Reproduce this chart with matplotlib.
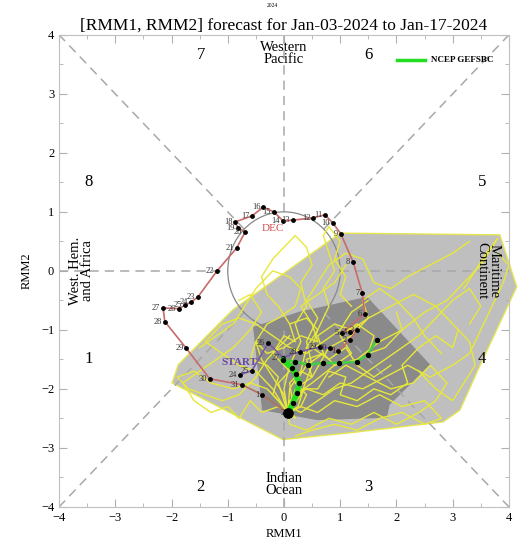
import numpy as np
import matplotlib
matplotlib.use("Agg")
import matplotlib.pyplot as plt
from matplotlib.patches import Polygon, Ellipse

plt.rcParams['font.family'] = ['Liberation Serif', 'DejaVu Serif']

# observed RMM path (Nov 24 -> Jan 2)
obs_days = [24, 25, 26, 27, 28, 29, 30,
            1, 2, 3, 4, 5, 6, 7, 8, 9, 10, 11, 12, 13, 14, 15, 16, 17, 18, 19, 20,
            21, 22, 23, 24, 25, 26, 27, 28, 29, 30, 31,
            1, 2]
obs_month = ['Nov'] * 7 + ['Dec'] * 31 + ['Jan'] * 2
obs_rmm1 = [-0.78, -0.57, -0.28, -0.02, 0.28, 0.64, 0.82,
            0.96, 1.17, 1.30, 1.17, 1.03, 1.44, 1.39, 1.23, 1.01, 0.87, 0.73, 0.52, 0.16, -0.02,
            -0.18, -0.37, -0.57, -0.87, -0.82, -0.69, -0.84, -1.19, -1.53, -1.65, -1.76, -1.87,
            -2.15, -2.12, -1.74, -1.32, -0.75,
            -0.39, 0.07]
obs_rmm2 = [-1.76, -1.69, -1.22, -1.47, -1.37, -1.29, -1.31,
            -1.36, -1.17, -1.00, -1.03, -1.05, -0.73, -0.37, 0.15, 0.63, 0.81, 0.95, 0.90, 0.86, 0.85,
            1.00, 1.08, 0.93, 0.83, 0.73, 0.66, 0.39, 0.00, -0.44, -0.53, -0.58, -0.64,
            -0.63, -0.86, -1.31, -1.83, -1.93,
            -2.10, -2.41]

# ensemble mean forecast (starts from last observed day)
fc_rmm1 = [0.07, 0.16, 0.23, 0.27, 0.21, 0.14, -0.02, 0.20, 0.43, 0.69, 0.98, 1.30, 1.49, 1.65]
fc_rmm2 = [-2.41, -2.24, -2.07, -1.90, -1.75, -1.64, -1.51, -1.54, -1.59, -1.56, -1.56, -1.54, -1.42, -1.17]

# ensemble spread polygons (90% and 50%)
spread90_x = [-1.99, -1.88, -0.91, 1.00, 3.84, 4.14, 3.45, 3.13, 2.83, 1.12, -0.02]
spread90_y = [-1.90, -1.59, -0.66, 0.64, 0.61, -0.27, -1.68, -2.36, -2.56, -2.75, -2.86]
spread50_x = [-0.55, 0.28, 1.48, 2.60, 1.88, 1.83, 0.59, -0.39]
spread50_y = [-0.95, -0.69, -0.44, -1.59, -2.27, -2.49, -2.53, -2.36]

# ensemble members (rmm1, rmm2)
members = [
    ([0.07, 0.2, 0.5, 0.9, 1.3, 1.7, 2.1, 2.5, 2.9, 3.2, 3.5, 3.7, 3.8, 3.6, 3.4, 3.2],
     [-2.41, -2.1, -1.9, -1.6, -1.5, -1.2, -1.0, -0.7, -0.5, -0.2, 0.1, 0.4, 0.55, 0.3, 0.0, -0.3]),
    ([0.07, 0.1, 0.3, 0.4, 0.6, 0.8, 0.7, 0.9, 0.8, 0.7, 0.8, 1.0, 0.9, 1.1, 1.0, 1.2],
     [-2.41, -2.0, -1.7, -1.3, -1.0, -0.6, -0.3, 0.0, 0.3, 0.6, 0.75, 0.5, 0.2, -0.1, -0.4, -0.6]),
    ([0.07, -0.1, -0.3, -0.6, -0.9, -1.3, -1.6, -1.9, -1.7, -1.4, -1.1, -0.8, -0.5, -0.3, -0.1, 0.1],
     [-2.41, -2.2, -2.0, -1.9, -2.0, -1.9, -1.7, -1.8, -2.0, -2.1, -2.2, -2.1, -1.8, -1.5, -1.3, -1.1]),
    ([0.07, 0.3, 0.6, 0.9, 1.3, 1.7, 2.1, 2.5, 2.8, 2.5, 2.1, 1.7, 1.3, 0.9, 0.5, 0.2],
     [-2.41, -2.3, -2.4, -2.2, -2.3, -2.1, -2.3, -2.2, -2.5, -2.6, -2.4, -2.5, -2.7, -2.6, -2.7, -2.8]),
    ([0.07, 0.0, -0.2, -0.4, -0.5, -0.3, -0.1, 0.2, 0.3, 0.1, -0.2, -0.5, -0.7, -0.9, -1.2, -1.5],
     [-2.41, -2.1, -1.8, -1.5, -1.2, -0.9, -0.8, -0.6, -0.3, -0.1, 0.0, -0.3, -0.6, -0.9, -1.1, -1.3]),
    ([0.07, 0.2, 0.5, 0.8, 1.2, 1.5, 1.9, 2.3, 2.7, 3.0, 3.3, 3.4, 3.2, 3.0, 2.7, 2.4],
     [-2.41, -2.0, -1.8, -1.3, -1.1, -0.8, -0.6, -0.4, -0.6, -0.9, -1.2, -1.6, -1.9, -2.2, -2.0, -1.7]),
    ([0.07, 0.1, 0.4, 0.7, 1.0, 1.4, 1.8, 2.2, 2.6, 3.0, 3.3, 3.5, 3.7, 3.9, 4.0, 3.8],
     [-2.41, -2.2, -2.0, -2.1, -1.9, -2.0, -1.8, -1.6, -1.8, -1.6, -1.4, -1.0, -0.6, -0.2, 0.1, 0.3]),
    ([0.07, -0.1, -0.4, -0.6, -0.8, -1.0, -1.3, -1.6, -1.8, -1.5, -1.2, -0.9, -0.6, -0.4, -0.6, -0.8],
     [-2.41, -2.3, -2.4, -2.2, -2.5, -2.3, -2.4, -2.2, -1.9, -1.7, -1.5, -1.3, -1.0, -0.7, -0.4, -0.5]),
    ([0.07, 0.3, 0.5, 0.4, 0.6, 0.4, 0.6, 0.8, 1.1, 1.4, 1.6, 1.9, 2.2, 2.6, 3.0, 3.3],
     [-2.41, -2.1, -1.6, -1.2, -0.8, -0.5, -0.2, 0.1, 0.3, 0.2, -0.2, -0.3, -0.1, 0.1, 0.3, 0.5]),
    ([0.07, 0.1, 0.4, 0.8, 1.2, 1.6, 2.0, 2.4, 2.7, 2.9, 2.6, 2.3, 1.9, 1.5, 1.1, 0.8],
     [-2.41, -2.6, -2.7, -2.5, -2.6, -2.4, -2.6, -2.4, -2.2, -1.9, -1.6, -1.9, -2.0, -1.8, -1.6, -1.8]),
    ([0.07, 0.0, 0.1, 0.3, 0.2, 0.4, 0.3, 0.5, 0.4, 0.2, 0.0, -0.2, -0.4, -0.3, -0.1, 0.1],
     [-2.41, -2.0, -1.6, -1.2, -0.9, -0.6, -0.2, 0.1, 0.4, 0.6, 0.4, 0.2, -0.1, -0.4, -0.6, -0.9]),
    ([0.07, -0.2, -0.5, -0.8, -1.1, -1.4, -1.1, -0.8, -0.5, -0.2, 0.1, 0.4, 0.7, 1.0, 1.2, 1.5],
     [-2.41, -2.0, -1.7, -1.6, -1.4, -1.2, -0.9, -0.8, -0.9, -1.1, -1.3, -1.4, -1.2, -1.0, -0.7, -0.5]),
    ([0.07, 0.15, 0.1, 0.3, 0.5, 0.4, 0.7, 0.9, 1.2, 1.0, 1.3, 1.6, 1.5, 1.8, 2.1, 2.0],
     [-2.41, -2.2, -1.9, -1.7, -1.8, -1.5, -1.4, -1.6, -1.4, -1.1, -0.9, -1.1, -1.4, -1.3, -1.0, -0.7]),
    ([0.07, 0.0, -0.1, 0.1, -0.2, 0.0, 0.2, 0.1, 0.4, 0.6, 0.5, 0.8, 1.1, 1.3, 1.6, 1.9],
     [-2.41, -2.2, -1.9, -1.7, -1.4, -1.1, -1.2, -0.9, -0.8, -1.0, -1.3, -1.5, -1.3, -1.6, -1.8, -1.6]),
    ([0.07, 0.25, 0.35, 0.6, 0.8, 1.1, 1.0, 1.3, 1.6, 1.9, 2.2, 2.1, 2.4, 2.7, 3.0, 3.1],
     [-2.41, -2.3, -2.0, -2.0, -1.7, -1.8, -2.1, -2.2, -2.0, -2.1, -1.9, -1.6, -1.3, -1.1, -1.3, -1.0]),
    ([0.07, -0.05, -0.2, -0.1, -0.3, -0.6, -0.5, -0.3, 0.0, 0.3, 0.6, 0.5, 0.3, 0.6, 0.9, 1.1],
     [-2.41, -2.25, -2.1, -1.8, -1.6, -1.5, -1.2, -1.4, -1.3, -1.1, -1.2, -0.9, -0.6, -0.4, -0.2, 0.1]),
    ([0.07, 0.2, 0.1, 0.3, 0.6, 0.9, 1.2, 1.5, 1.8, 2.1, 2.4, 2.7, 3.0, 3.3, 3.5, 3.3],
     [-2.41, -2.5, -2.3, -2.4, -2.2, -2.0, -1.9, -1.7, -1.5, -1.3, -1.1, -0.8, -0.5, -0.3, -0.6, -0.9]),
    ([0.07, 0.3, 0.4, 0.2, 0.4, 0.7, 0.6, 0.9, 1.2, 1.5, 1.4, 1.7, 2.0, 2.3, 2.5, 2.8],
     [-2.41, -2.3, -2.1, -1.9, -1.6, -1.4, -1.1, -0.9, -1.0, -0.8, -0.5, -0.3, -0.5, -0.8, -1.1, -1.4]),
]

phase_labels = ['1', '2', '3', '4', '5', '6', '7', '8']
phase_x = [-3.47, -1.48, 1.5, 3.52, 3.52, 1.5, -1.48, -3.47]
phase_y = [-1.5, -3.66, -3.66, -1.5, 1.51, 3.66, 3.66, 1.51]

month_colors = {'Nov': '#7a5aa8', 'Dec': '#c86a6a', 'Jan': '#b0705a'}

fig = plt.figure(figsize=(5.23, 5.45), dpi=100)
ax = fig.add_axes([0.113, 0.070, 0.860, 0.866])
ax.set_xlim(-4, 4)
ax.set_ylim(-4, 4)

# spread shading
ax.add_patch(Polygon(np.column_stack([spread90_x, spread90_y]), closed=True,
                     facecolor='#bfbfbf', edgecolor='#e6e650', lw=1.0, zorder=1, clip_on=False))
ax.add_patch(Polygon(np.column_stack([spread50_x, spread50_y]), closed=True,
                     facecolor='#8a8a8a', edgecolor='none', zorder=1.5))

# phase diagram guide lines
dash = dict(color='#a8a8a8', lw=1.1, dashes=(6, 4), zorder=2)
r = 1 / np.sqrt(2)
ax.plot([-4, -1], [0, 0], **dash)
ax.plot([1, 4], [0, 0], **dash)
ax.plot([0, 0], [1, 4], **dash)
ax.plot([0, 0], [-1, -4], **dash)
for sx, sy in [(1, 1), (-1, 1), (1, -1), (-1, -1)]:
    ax.plot([sx * r, sx * 4], [sy * r, sy * 4], **dash)
ax.add_patch(Ellipse((0, 0), 2, 2, facecolor='none', edgecolor='#888888', lw=0.9, zorder=2))

# ensemble members
for mx, my in members:
    ax.plot(mx, my, color='#e8e83a', lw=1.0, zorder=3)

# observed path, coloured by month
for i in range(len(obs_days) - 1):
    ax.plot(obs_rmm1[i:i + 2], obs_rmm2[i:i + 2], color=month_colors[obs_month[i + 1]],
            lw=1.2, zorder=4)
ax.scatter(obs_rmm1, obs_rmm2, s=6, color='black', zorder=5)
for d, x, y, m in zip(obs_days, obs_rmm1, obs_rmm2, obs_month):
    ax.annotate(str(d), (x, y), xytext=(-2, 0), textcoords='offset points',
                ha='right', va='center', fontsize=6, color='#333333', zorder=5)
ax.text(obs_rmm1[0] - 0.02, obs_rmm2[0] + 0.2, 'START', color='#6a4aa0', fontsize=8,
        fontweight='bold', ha='center', va='center', zorder=6)
ax.text(-0.2, 0.72, 'DEC', color='#d05050', fontsize=8, ha='center', va='center', zorder=6)

# ensemble mean forecast
ax.plot(fc_rmm1[:7], fc_rmm2[:7], color='#22dd22', lw=4, zorder=6, solid_capstyle='round')
ax.plot(fc_rmm1[6:], fc_rmm2[6:], color='#44cc44', lw=1.8, zorder=6)
ax.scatter(fc_rmm1[1:], fc_rmm2[1:], s=8, color='black', zorder=7)
ax.scatter(fc_rmm1[:1], fc_rmm2[:1], s=45, color='black', zorder=8)

# phase numbers and region names
for lab, x, y in zip(phase_labels, phase_x, phase_y):
    ax.text(x, y, lab, fontsize=12, ha='center', va='center')
ax.text(0, 3.69, 'Western\nPacific', fontsize=10.5, ha='center', va='center', linespacing=0.9)
ax.text(0, -3.62, 'Indian\nOcean', fontsize=10.5, ha='center', va='center', linespacing=0.9)
ax.text(-3.6, 0, 'West. Hem.\nand Africa', fontsize=10.5, ha='center', va='center',
        rotation=90, linespacing=0.9)
ax.text(3.63, 0, 'Maritime\nContinent', fontsize=10.5, ha='center', va='center',
        rotation=-90, linespacing=0.9)

# legend
ax.plot([2.01, 2.51], [3.57, 3.57], color='#22dd22', lw=2.5)
ax.text(2.62, 3.57, 'NCEP GEFSBC', fontsize=6.5, fontweight='bold', ha='left', va='center')

# axes styling
ax.set_xticks(np.arange(-4, 5, 1))
ax.set_yticks(np.arange(-4, 5, 1))
ax.set_xticks(np.arange(-4, 4.1, 0.5), minor=True)
ax.set_yticks(np.arange(-4, 4.1, 0.5), minor=True)
ax.tick_params(which='both', direction='in', top=True, right=True, colors='#b0b0b0',
               labelcolor='black', labelsize=9)
ax.tick_params(which='major', length=6)
ax.tick_params(which='minor', length=3)
for sp in ax.spines.values():
    sp.set_color('#c0c0c0')
ax.set_xlabel('RMM1', fontsize=9, labelpad=3)
ax.set_ylabel('RMM2', fontsize=9, labelpad=6)
ax.set_title('[RMM1, RMM2] forecast for Jan-03-2024 to Jan-17-2024', fontsize=12.5, pad=4)
fig.text(0.52, 0.995, '2024', fontsize=4, ha='center', va='top')

fig.savefig('out.png', dpi=100)
